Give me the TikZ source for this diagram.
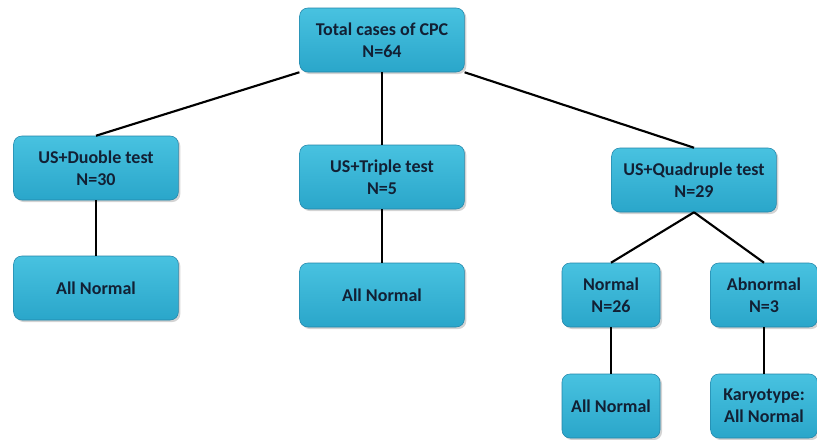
\documentclass[tikz,border=0pt]{standalone}
\usepackage{fontspec}
\setmainfont{Carlito}
\usepackage{tikz}
\usetikzlibrary{
  positioning,
  shadows
}
\definecolor{boxtop}{RGB}{72,194,224}
\definecolor{boxbottom}{RGB}{42,166,202}
\definecolor{boxedge}{RGB}{34,132,168}
\definecolor{inkblue}{RGB}{18,32,52}

\begin{document}
\begin{tikzpicture}[
  x=0.75pt, y=-0.75pt,
  box/.style={
    rounded corners=6pt,
    draw=boxedge,
    top color=boxtop,
    bottom color=boxbottom,
    drop shadow={shadow xshift=1.5pt, shadow yshift=-1.5pt, opacity=0.35},
    align=center,
    text=inkblue,
    font=\fontsize{13.5}{16.5}\selectfont\bfseries,
    minimum width=123.5pt,
    minimum height=48pt,
    inner sep=2pt
  },
  smallbox/.style={
    box,
    minimum width=73.5pt
  },
  link/.style={line width=1.6pt, black}
]
\useasboundingbox (0,0) rectangle (817,439);

\node[box] (total) at (382,40) {Total cases of CPC\\N=64};
\node[box] (duoble) at (96,168) {US+Duoble test\\N=30};
\node[box] (triple) at (382,177) {US+Triple test\\N=5};
\node[box] (quad) at (694,180) {US+Quadruple test\\N=29};

\node[box] (duoblenorm) at (96,288) {All Normal};
\node[box] (triplenorm) at (382,295) {All Normal};
\node[smallbox] (normal) at (611,295) {Normal\\N=26};
\node[smallbox, minimum width=80pt] (abnormal) at (764,295) {Abnormal\\N=3};
\node[smallbox] (normalall) at (611,406) {All Normal};
\node[smallbox, minimum width=80pt] (karyo) at (764,406) {Karyotype:\\All Normal};

\draw[link] (total.south west) -- (duoble.north);
\draw[link] (total.south) -- (triple.north);
\draw[link] (total.south east) -- (quad.north);
\draw[link] (duoble.south) -- (duoblenorm.north);
\draw[link] (triple.south) -- (triplenorm.north);
\draw[link] (quad.south) -- (normal.north);
\draw[link] (quad.south) -- (abnormal.north);
\draw[link] (normal.south) -- (normalall.north);
\draw[link] (abnormal.south) -- (karyo.north);

\end{tikzpicture}
\end{document}
